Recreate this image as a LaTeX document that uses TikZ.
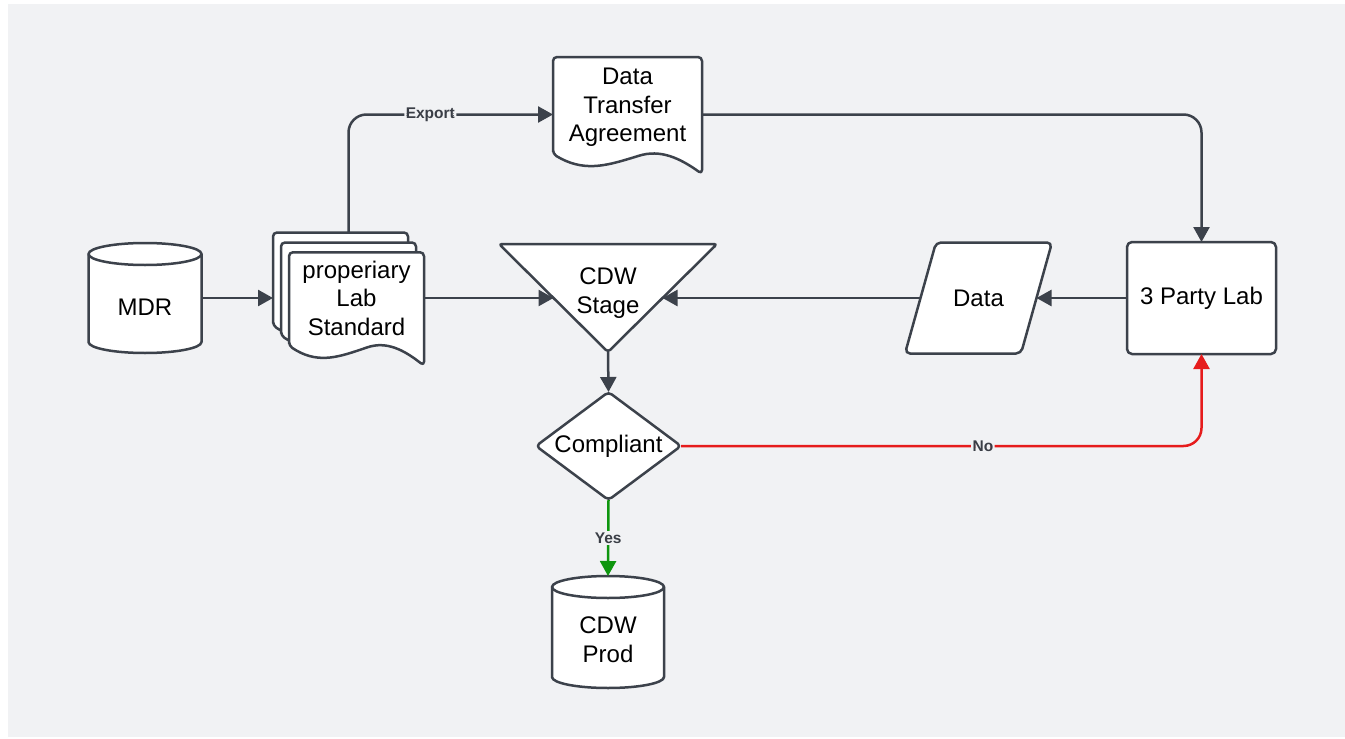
\documentclass[tikz,border=0pt]{standalone}
\usepackage{fontspec}
\setmainfont{Liberation Sans}
\usetikzlibrary{arrows.meta,calc,shapes.geometric}
\pgfdeclarelayer{back}
\pgfdeclarelayer{shp}
\pgfsetlayers{back,shp,main}

\definecolor{canvas}{RGB}{241,242,244}
\definecolor{ink}{RGB}{60,66,75}
\definecolor{noline}{RGB}{230,28,28}
\definecolor{yesline}{RGB}{14,150,14}
\definecolor{lbl}{RGB}{58,62,70}

\newcommand\stack[1]{\begin{tabular}{@{}c@{}}#1\end{tabular}}
\newcommand\nudgeup[2]{\raisebox{0pt}[\height][\dimexpr\depth+#1+#1\relax]{#2}}
\newcommand\nudgedown[2]{\raisebox{0pt}[\dimexpr\height+#1+#1\relax][\depth]{#2}}

% page with a wavy foot, hung below the body box of a node
\newcommand\docpage[1]{%
  \filldraw[shapeline,rounded corners=4pt] ($(#1.south west)+(0,2)$) -- (#1.north west)
    -- (#1.north east) -- ($(#1.south east)+(0,22)$)
    .. controls ($(#1.south west)!0.85!(#1.south east)+(0,6)$) and ($(#1.south west)!0.72!(#1.south east)+(0,-3)$)
    .. ($(#1.south west)!0.55!(#1.south east)+(0,5)$)
    .. controls ($(#1.south west)!0.35!(#1.south east)+(0,14)$) and ($(#1.south west)!0.2!(#1.south east)+(0,20)$)
    .. cycle;}

% database drum filling the box of a node
\newcommand\dbdrum[2]{%
  \filldraw[shapeline] ($(#1.north west)+(0,11)$) -- ($(#1.south west)+(0,-11)$)
    arc[start angle=180,end angle=360,x radius=#2,y radius=11pt]
    -- ($(#1.north east)+(0,11)$)
    arc[start angle=0,end angle=180,x radius=#2,y radius=11pt] -- cycle;
  \draw[shapeline,fill=none] ($(#1.north west)+(0,11)$)
    arc[start angle=180,end angle=360,x radius=#2,y radius=11pt];}

\begin{document}
\begin{tikzpicture}[x=1pt,y=-1pt,
  font=\fontsize{24}{28.5}\selectfont,
  shapeline/.style={draw=ink,fill=white,line width=2.5pt,line join=round},
  box/.style={inner sep=0pt,outer sep=0pt},
  conn/.style={draw=ink,line width=2.5pt,-{Triangle[length=15pt,width=16pt]}},
  tag/.style={font=\fontsize{15.5}{18}\selectfont\bfseries,text=lbl,fill=canvas,inner sep=1.5pt}]
  \useasboundingbox (0,0) rectangle (1345,739);
  \begin{pgfonlayer}{back}
    \fill[canvas] (8,4) rectangle (1345,737);
  \end{pgfonlayer}

  % nodes
  \node[box,minimum width=113,minimum height=110] (mdr) at (145,298) {\nudgedown{9.5pt}{MDR}};
  \node[box,minimum width=135,minimum height=91] (lab) at (356.5,298) {\nudgedown{3pt}{\stack{properiary\\Lab\\Standard}}};
  \node[box,minimum width=135,minimum height=91] (lab1) at ($(lab)+(-16,-20)$) {};
  \node[box,minimum width=135,minimum height=91] (lab2) at ($(lab)+(-8,-10)$) {};
  \node[box,minimum width=149,minimum height=95] (dta) at (627.5,104.5) {\nudgedown{2.9pt}{\stack{Data\\Transfer\\Agreement}}};
  \node[box,minimum width=218,minimum height=108] (stage) at (608,298) {\nudgeup{4.6pt}{\stack{CDW\\Stage}}};
  \node[shapeline,diamond,aspect=1.34,rounded corners=4pt,box,minimum width=145,minimum height=108] (comp) at (608.5,446) {Compliant};
  \node[box,minimum width=112,minimum height=112] (prod) at (608,632) {\nudgedown{10.4pt}{\stack{CDW\\Prod}}};
  \node[box,minimum width=147,minimum height=111] (data) at (978.5,298) {Data};
  \node[shapeline,rounded corners=5pt,box,minimum width=149,minimum height=112] (tpl) at (1201.5,298) {3 Party Lab};

  % outlines under the texts
  \begin{pgfonlayer}{shp}
    \dbdrum{mdr}{56.5pt}
    \docpage{lab1}
    \docpage{lab2}
    \docpage{lab}
    \docpage{dta}
    \filldraw[shapeline,rounded corners=3pt] (stage.north west) -- (stage.north east) -- (stage.south) -- cycle;
    \dbdrum{prod}{56pt}
    \filldraw[shapeline,rounded corners=5pt] (data.south west) -- ($(data.north west)+(31,0)$)
      -- (data.north east) -- ($(data.south east)+(-31,0)$) -- cycle;
  \end{pgfonlayer}

  % connectors
  \draw[conn] (mdr.east) -- (mdr.east -| lab1.west);
  \draw[conn] (lab.east) -- ($(stage.north west)!0.5!(stage.south)$);
  \draw[conn] ($(data.west)+(15.5,0)$) -- ($(stage.north east)!0.5!(stage.south)$);
  \draw[conn] (tpl.west) -- ($(data.east)+(-15.5,0)$);
  \draw[conn] (stage.south) -- (comp.north);
  \draw[conn,rounded corners=18pt] (lab1.north -| lab2.north) |- node[tag,pos=0.7]{Export} ($(dta.west)+(0,10)$);
  \draw[conn,rounded corners=18pt] ($(dta.east)+(0,10)$) -| (tpl.north);
  \draw[conn,draw=noline,rounded corners=18pt] (comp.east) -| node[tag,pos=0.29]{No} (tpl.south);
  \draw[conn,draw=yesline] (comp.south) -- node[tag]{Yes} (prod.north);
\end{tikzpicture}
\end{document}
